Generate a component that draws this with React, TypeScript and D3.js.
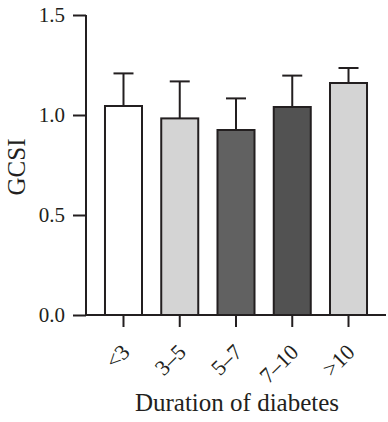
import { useRef, useEffect } from 'react';
import * as d3 from 'd3';

// GCSI by duration of diabetes (mean + upper SD)
const CATEGORIES = ['<3', '3–5', '5–7', '7–10', '>10'];
const MEANS = [1.045, 0.983, 0.925, 1.04, 1.16];
const UPPER = [1.208, 1.168, 1.083, 1.197, 1.235];
const FILLS = ['#ffffff', '#d4d4d4', '#616161', '#525252', '#d4d4d4'];
const Y_TICKS = [0, 0.5, 1.0, 1.5];

export default function App() {
  const ref = useRef<SVGSVGElement>(null);

  useEffect(() => {
    const svg = ref.current;
    if (!svg) return;
    const W = 388, H = 422;
    const x0 = 86, x1 = 386, yTop = 15, yBot = 315;
    const ink = '#231f20';
    const font = '"Liberation Serif", "Times New Roman", serif';

    d3.select(svg).selectAll('*').remove();
    const g = d3.select(svg).attr('viewBox', `0 0 ${W} ${H}`).append('g');

    const x = d3.scaleBand<string>().domain(CATEGORIES).range([x0, x1])
      .paddingInner(0.342).paddingOuter(0.3375);
    const y = d3.scaleLinear().domain([0, 1.5]).range([yBot, yTop]);

    // Error bars (behind bars)
    CATEGORIES.forEach((c, i) => {
      const cx = x(c)! + x.bandwidth() / 2;
      g.append('line').attr('x1', cx).attr('x2', cx).attr('y1', y(MEANS[i])).attr('y2', y(UPPER[i]))
        .attr('stroke', ink).attr('stroke-width', 2);
      g.append('line').attr('x1', cx - 10).attr('x2', cx + 10).attr('y1', y(UPPER[i])).attr('y2', y(UPPER[i]))
        .attr('stroke', ink).attr('stroke-width', 2);
    });

    // Bars
    CATEGORIES.forEach((c, i) => {
      g.append('rect')
        .attr('x', x(c)!).attr('y', y(MEANS[i]))
        .attr('width', x.bandwidth()).attr('height', yBot - y(MEANS[i]))
        .attr('fill', FILLS[i]).attr('stroke', ink).attr('stroke-width', 2);
    });

    // Y axis
    const yAxis = g.append('g').attr('transform', `translate(${x0},0)`)
      .call(d3.axisLeft(y).tickValues(Y_TICKS).tickFormat(d3.format('.1f')).tickSize(13).tickPadding(8));
    yAxis.select('.domain').attr('d', `M0,${yTop}V${yBot}`).attr('stroke', ink).attr('stroke-width', 2);
    yAxis.selectAll('.tick line').attr('stroke', ink).attr('stroke-width', 2);
    yAxis.selectAll('.tick text').attr('font-family', font).attr('font-size', 21).attr('fill', ink);

    // X axis
    const xAxis = g.append('g').attr('transform', `translate(0,${yBot})`)
      .call(d3.axisBottom(x).tickSize(12).tickPadding(4));
    xAxis.select('.domain').attr('d', `M${x0},0H${x1}`).attr('stroke', ink).attr('stroke-width', 2);
    xAxis.selectAll('.tick line').attr('stroke', ink).attr('stroke-width', 2);
    xAxis.selectAll<SVGTextElement, string>('.tick text')
      .attr('font-family', font).attr('font-size', 22).attr('fill', ink)
      .attr('text-anchor', 'end').attr('dy', '0.35em')
      .attr('transform', 'translate(2,33) rotate(-45)')
      .attr('x', 0).attr('y', 0);

    // Axis titles
    g.append('text').attr('transform', `translate(25,${(yTop + yBot) / 2 + 2}) rotate(-90)`)
      .attr('text-anchor', 'middle').attr('font-family', font).attr('font-size', 25).attr('fill', ink)
      .text('GCSI');
    g.append('text').attr('x', (x0 + x1) / 2 + 1).attr('y', 411)
      .attr('text-anchor', 'middle').attr('font-family', font).attr('font-size', 25).attr('fill', ink)
      .text('Duration of diabetes');
  }, []);

  return (
    <svg ref={ref} width={388} height={422}
      style={{ position: 'absolute', left: 0, top: 0, background: '#fff' }} />
  );
}
